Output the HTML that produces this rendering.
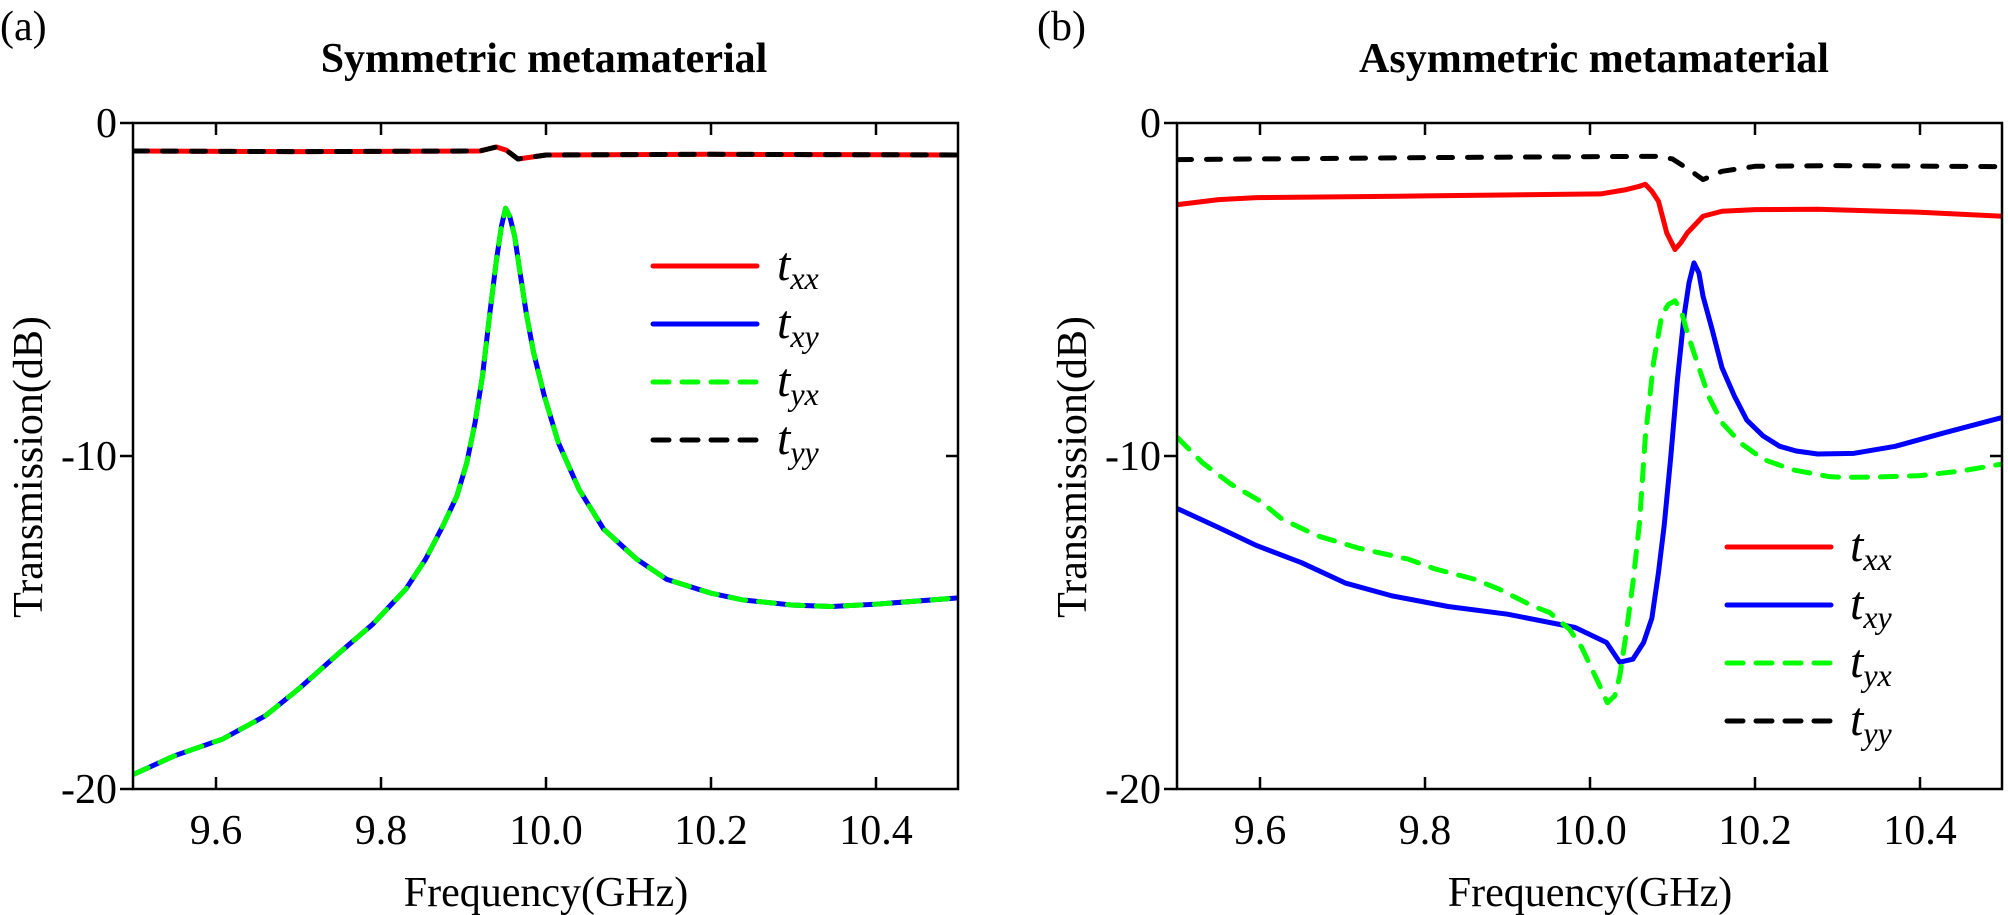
<!DOCTYPE html>
<html><head><meta charset="utf-8"><style>
html,body{margin:0;padding:0;background:#fff;width:2008px;height:915px;overflow:hidden}
svg{display:block}
svg text{font-family:"Liberation Serif","Times New Roman",serif !important;fill:#000}
.c{fill:none;vector-effect:non-scaling-stroke;stroke-linejoin:round}
</style></head><body>
<svg width="2008" height="915" viewBox="0 0 2008 915" xmlns="http://www.w3.org/2000/svg" font-family="Liberation Serif, serif" style="font-family:'Liberation Serif',serif">
<defs>
<clipPath id="ca"><rect x="133" y="123" width="826" height="666"/></clipPath>
<clipPath id="cb"><rect x="1177" y="123" width="826" height="666"/></clipPath>
</defs>

<!-- Panel (a) -->
<text x="0" y="40" font-size="42">(a)</text>
<text x="544" y="72" font-size="42" font-weight="bold" text-anchor="middle">Symmetric metamaterial</text>
<g clip-path="url(#ca)">
<g transform="translate(133.5,123) scale(0.825,0.333)">
<path class="c" stroke="#0000ff" stroke-width="5" d="M0,1956 L50,1900 L108,1850 L160,1780 L200,1700 L250,1590 L290,1505 L330,1400 L354,1310 L375,1210 L392,1120 L404,1020 L414,900 L423,760 L432,570 L440,410 L446,310 L451,256 L456,280 L462,340 L468,440 L476,570 L485,690 L498,820 L515,960 L540,1100 L570,1220 L610,1310 L646,1370 L700,1412 L738,1432 L800,1448 L846,1452 L900,1445 L1000,1426"/>
<path class="c" stroke="#00ff00" stroke-width="5" stroke-dasharray="16 13" stroke-linecap="round" d="M0,1956 L50,1900 L108,1850 L160,1780 L200,1700 L250,1590 L290,1505 L330,1400 L354,1310 L375,1210 L392,1120 L404,1020 L414,900 L423,760 L432,570 L440,410 L446,310 L451,256 L456,280 L462,340 L468,440 L476,570 L485,690 L498,820 L515,960 L540,1100 L570,1220 L610,1310 L646,1370 L700,1412 L738,1432 L800,1448 L846,1452 L900,1445 L1000,1426"/>
<path class="c" stroke="#ff0000" stroke-width="5" d="M0,84 L200,86 L420,84 L440,72 L452,82 L466,108 L478,104 L500,96 L700,94 L1000,96"/>
<path class="c" stroke="#000" stroke-width="5" stroke-dasharray="14 15" stroke-linecap="round" d="M0,84 L200,86 L420,84 L440,72 L452,82 L466,108 L478,104 L500,96 L700,94 L1000,96"/>
</g></g>
<g stroke="#000" stroke-width="2.5" fill="none">
<rect x="133" y="123" width="825" height="666"/>
<path d="M120,123H133M120,456H133M120,789H133M958,456H946"/>
<path d="M216,789v-12M381,789v-12M546,789v-12M711,789v-12M876,789v-12"/>
<path d="M216,123v12M381,123v12M546,123v12M711,123v12M876,123v12"/>
</g>
<g font-size="42" text-anchor="end">
<text x="117" y="137">0</text><text x="117" y="470">-10</text><text x="117" y="803">-20</text>
</g>
<g font-size="42" text-anchor="middle">
<text x="216" y="844">9.6</text><text x="381" y="844">9.8</text><text x="546" y="844">10.0</text><text x="711" y="844">10.2</text><text x="876" y="844">10.4</text>
</g>
<text x="546" y="906" font-size="42" text-anchor="middle">Frequency(GHz)</text>
<text transform="translate(42,467) rotate(-90)" font-size="42" text-anchor="middle">Transmission(dB)</text>
<g stroke-width="5" stroke-linecap="round">
<line x1="653" y1="266" x2="757" y2="266" stroke="#ff0000"/>
<line x1="653" y1="324" x2="757" y2="324" stroke="#0000ff"/>
<line x1="653" y1="382" x2="757" y2="382" stroke="#00ff00" stroke-dasharray="16 13"/>
<line x1="653" y1="440" x2="757" y2="440" stroke="#000" stroke-dasharray="16 13"/>
</g>
<g font-size="48" font-style="italic">
<text x="777" y="280">t<tspan font-size="32" dy="9">xx</tspan></text>
<text x="777" y="338">t<tspan font-size="32" dy="9">xy</tspan></text>
<text x="777" y="396">t<tspan font-size="32" dy="9">yx</tspan></text>
<text x="777" y="454">t<tspan font-size="32" dy="9">yy</tspan></text>
</g>

<!-- Panel (b) -->
<text x="1037" y="40" font-size="42">(b)</text>
<text x="1594" y="72" font-size="42" font-weight="bold" text-anchor="middle">Asymmetric metamaterial</text>
<g clip-path="url(#cb)">
<g transform="translate(1177.5,123) scale(0.825,0.333)">
<path class="c" stroke="#000" stroke-width="5" stroke-dasharray="14 15" stroke-linecap="round" d="M0,110 L300,104 L583,100 L600,108 L620,140 L637,170 L660,145 L700,130 L800,128 L1000,131"/>
<path class="c" stroke="#ff0000" stroke-width="5" d="M0,245 L50,230 L96,224 L300,219 L513,213 L544,200 L560,190 L567,184 L575,205 L583,235 L593,330 L603,380 L610,360 L618,330 L637,280 L660,265 L700,260 L776,259 L900,268 L1000,280"/>
<path class="c" stroke="#0000ff" stroke-width="5" d="M0,1158 L50,1215 L96,1269 L150,1320 L204,1382 L260,1420 L328,1452 L400,1475 L482,1515 L520,1560 L536,1619 L552,1610 L565,1560 L575,1487 L583,1350 L590,1207 L598,1000 L606,770 L614,580 L620,480 L626,420 L632,450 L637,520 L648,620 L660,735 L675,820 L690,892 L710,940 L730,971 L750,985 L776,994 L820,992 L870,971 L930,930 L1000,884"/>
<path class="c" stroke="#00ff00" stroke-width="5" stroke-dasharray="16 13" stroke-linecap="round" d="M0,945 L30,1020 L65,1085 L100,1135 L127,1190 L170,1240 L220,1277 L280,1310 L312,1339 L360,1370 L390,1400 L430,1450 L451,1470 L475,1520 L490,1575 L510,1680 L521,1741 L530,1720 L536,1662 L544,1530 L552,1382 L560,1200 L567,945 L577,720 L587,577 L595,545 L603,534 L610,560 L618,630 L630,720 L644,822 L660,900 L683,962 L710,1010 L745,1041 L790,1062 L807,1064 L850,1063 L900,1059 L950,1045 L1000,1024"/>
</g></g>
<g stroke="#000" stroke-width="2.5" fill="none">
<rect x="1177" y="123" width="825" height="666"/>
<path d="M1164,123H1177M1164,456H1177M1164,789H1177M2002,456H1990"/>
<path d="M1260,789v-12M1425,789v-12M1590,789v-12M1755,789v-12M1920,789v-12"/>
<path d="M1260,123v12M1425,123v12M1590,123v12M1755,123v12M1920,123v12"/>
</g>
<g font-size="42" text-anchor="end">
<text x="1161" y="137">0</text><text x="1161" y="470">-10</text><text x="1161" y="803">-20</text>
</g>
<g font-size="42" text-anchor="middle">
<text x="1260" y="844">9.6</text><text x="1425" y="844">9.8</text><text x="1590" y="844">10.0</text><text x="1755" y="844">10.2</text><text x="1920" y="844">10.4</text>
</g>
<text x="1590" y="906" font-size="42" text-anchor="middle">Frequency(GHz)</text>
<text transform="translate(1086,467) rotate(-90)" font-size="42" text-anchor="middle">Transmission(dB)</text>
<g stroke-width="5" stroke-linecap="round">
<line x1="1727" y1="547" x2="1831" y2="547" stroke="#ff0000"/>
<line x1="1727" y1="605" x2="1831" y2="605" stroke="#0000ff"/>
<line x1="1727" y1="663" x2="1831" y2="663" stroke="#00ff00" stroke-dasharray="16 13"/>
<line x1="1727" y1="721" x2="1831" y2="721" stroke="#000" stroke-dasharray="16 13"/>
</g>
<g font-size="48" font-style="italic">
<text x="1850" y="561">t<tspan font-size="32" dy="9">xx</tspan></text>
<text x="1850" y="619">t<tspan font-size="32" dy="9">xy</tspan></text>
<text x="1850" y="677">t<tspan font-size="32" dy="9">yx</tspan></text>
<text x="1850" y="735">t<tspan font-size="32" dy="9">yy</tspan></text>
</g>
</svg>
</body></html>
